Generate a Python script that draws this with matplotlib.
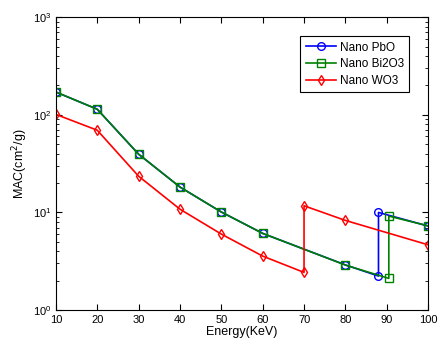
import matplotlib.pyplot as plt
import numpy as np

plt.rcParams['font.family'] = ['Liberation Sans', 'DejaVu Sans']

x_pbo = [10, 20, 30, 40, 50, 60, 80, 88, 88, 100]
y_pbo = [171, 114, 39.5, 18.2, 10.1, 6.1, 2.9, 2.23, 10.0, 7.25]

x_bi = [10, 20, 30, 40, 50, 60, 80, 90.5, 90.5, 100]
y_bi = [171, 114, 39.5, 18.2, 10.1, 6.1, 2.89, 2.11, 9.17, 7.29]

x_wo = [10, 20, 30, 40, 50, 60, 70, 70, 80, 100]
y_wo = [101, 69.5, 23.5, 10.8, 6.0, 3.57, 2.43, 11.7, 8.28, 4.66]

fig = plt.figure(figsize=(4.4, 3.43), dpi=100)
ax = fig.add_axes([0.127, 0.096, 0.846, 0.854])

ax.plot(x_pbo, y_pbo, color='b', marker='o', mfc='none', ms=5.5, lw=1.2, label='Nano PbO')
ax.plot(x_bi, y_bi, color='g', marker='s', mfc='none', ms=5.5, lw=1.2, label='Nano Bi2O3')
ax.plot(x_wo, y_wo, color='r', marker='d', mfc='none', ms=5.5, lw=1.2, label='Nano WO3')

ax.set_yscale('log')
ax.set_xlim(10, 100)
ax.set_ylim(1, 1000)
ax.set_xticks(np.arange(10, 101, 10))
ax.tick_params(which='both', direction='in', top=True, right=True, labelsize=8)
ax.tick_params(which='major', length=4)
ax.tick_params(which='minor', length=2)
ax.set_xlabel('Energy(KeV)', fontsize=9, labelpad=1)
ax.set_ylabel('MAC(cm$^2$/g)', fontsize=9, labelpad=2)

leg = ax.legend(loc='upper right', bbox_to_anchor=(0.965, 0.955), fontsize=8.5,
                fancybox=False, framealpha=1, edgecolor='k', borderpad=0.45,
                handlelength=2.6, labelspacing=0.4, handletextpad=0.3)
leg.get_frame().set_linewidth(0.8)

fig.savefig('out.png', dpi=100)
